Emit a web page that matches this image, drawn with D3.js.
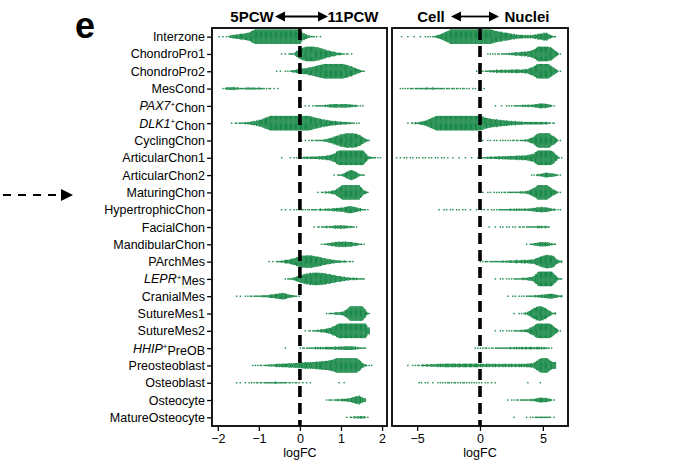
<!DOCTYPE html>
<html>
<head>
<meta charset="utf-8">
<script src="https://cdn.jsdelivr.net/npm/d3@7"></script>
<style>
  body { margin: 0; background: #fff; }
  text { font-family: "Liberation Sans", Arial, sans-serif; fill: #000; }
</style>
</head>
<body>
<svg id="chart" width="691" height="475"></svg>
<script>
// cell types, top to bottom ("+" marks a gene name shown in italics)
const cellTypes = [
  "Interzone", "ChondroPro1", "ChondroPro2", "MesCond", "PAX7+Chon", "DLK1+Chon",
  "CyclingChon", "ArticularChon1", "ArticularChon2", "MaturingChon", "HypertrophicChon",
  "FacialChon", "MandibularChon", "PArchMes", "LEPR+Mes", "CranialMes", "SutureMes1",
  "SutureMes2", "HHIP+PreOB", "Preosteoblast", "Osteoblast", "Osteocyte", "MatureOsteocyte"
];

// neighbourhood counts per logFC bin: [first bin centre, counts...]
// 5PCW vs 11PCW, bins of 0.1
const ageStep = 0.1;
const ageCounts = [
  [-1.95, [1,1,2,8,12,15,18,22,35,50,70,70,70,70,70,70,70,70,70,70,25,12,4,2,1]],
  [-0.45, [1,1,2,4,20,35,42,45,42,38,30,22,16,10,6,3,2,1]],
  [-0.55, [1,1,1,2,6,10,14,18,22,28,34,40,44,46,46,45,42,36,28,18,8,2]],
  [-1.85, [2,6,8,6,3,4,5,5,4,4,2,2,1,1]],
  [0.15, [1,1,2,3,4,5,8,10,9,10,9,7,4,2,1]],
  [-1.65, [1,2,3,4,6,10,14,20,30,40,45,48,50,50,50,50,50,48,45,40,34,28,22,18,14,11,9,7,5,4,2,1]],
  [0.05, [1,1,2,2,3,4,8,14,22,32,38,42,42,40,32,16,3]],
  [-0.45, [1,0,1,1,2,4,5,6,6,8,9,12,16,25,45,60,65,65,65,60,40,10,4,2,1]],
  [0.85, [1,2,6,20,30,20,5,2]],
  [0.45, [1,2,4,6,12,28,45,55,55,52,40,12,2]],
  [-0.45, [1,1,1,1,2,2,2,2,3,3,4,5,6,8,10,12,18,20,14,8,3,1]],
  [0.35, [1,2,3,4,5,7,9,9,6,4,2]],
  [0.55, [2,4,8,12,14,15,14,12,8,4,1]],
  [-0.75, [1,1,2,5,8,12,18,28,34,36,36,32,28,22,16,12,8,6,4,3,2]],
  [-0.35, [1,3,6,16,24,30,34,36,36,34,30,26,20,16,12,8,6,5,4,2]],
  [-1.55, [1,1,1,2,2,3,4,5,7,10,14,18,16,8,4,2]],
  [0.65, [1,3,5,7,10,25,50,55,55,35,3]],
  [0.15, [1,2,3,5,8,12,18,28,45,65,75,80,80,80,70,20]],
  [-0.35, [1,0,0,0,2,3,3,4,5,5,6,7,7,8,9,10,10,7,4,3]],
  [-1.15, [1,2,2,3,4,6,8,9,10,11,12,14,16,18,18,20,22,24,26,30,38,48,55,58,56,48,30,8,2,1]],
  [-1.55, [1,1,1,1,2,2,2,3,3,4,4,3,3,2,2,2,1,1,1,0,0,0,0,0,0,1,1]],
  [0.65, [1,3,3,4,6,8,12,20,24,10]],
  [1.15, [1,2,4,6,5,1]]
];

// Cell vs Nuclei, bins of 0.5
const protoStep = 0.5;
const protoCounts = [
  [-6.25, [1,1,1,1,2,3,15,40,70,90,95,95,95,90,70,50,40,30,20,14,12,14,25,35,6]],
  [0.75, [2,3,4,6,12,16,20,35,75,80,50,3]],
  [-0.25, [1,3,6,10,12,12,14,14,18,40,75,80,40,2]],
  [-6.25, [2,3,4,5,6,6,5,4,4,3,3,2,2,1]],
  [1.25, [1,1,2,4,6,8,10,20,18,3]],
  [-5.75, [1,4,10,25,50,75,85,90,90,90,85,80,55,40,32,26,20,16,12,10,10,10,8,3]],
  [0.25, [1,2,2,2,3,3,4,8,30,75,80,45,2]],
  [-6.75, [1,2,2,2,2,2,2,2,2,1,1,1,1,1,4,8,10,12,14,16,18,22,35,75,85,60,4]],
  [4.25, [2,8,20,14,3]],
  [0.25, [1,2,2,3,4,5,7,10,35,75,75,30,2]],
  [-3.25, [1,2,2,2,2,1,1,2,2,2,5,6,7,8,8,14,22,20,8,2]],
  [0.75, [1,1,2,2,2,3,4,5,9,5]],
  [3.75, [1,6,18,18,5]],
  [0.25, [3,4,5,6,8,10,12,14,18,40,60,55,8]],
  [1.25, [1,2,2,4,6,10,20,75,85,60,5]],
  [2.25, [1,2,2,4,6,10,16,22,6]],
  [2.75, [1,2,8,45,70,45,6]],
  [1.25, [1,2,2,4,6,12,40,80,85,50,3]],
  [-0.25, [2,3,3,4,5,6,7,8,9,8,9,6,1]],
  [-5.75, [1,2,4,8,10,12,14,14,14,14,14,14,12,12,12,12,12,12,12,14,18,60,70,30]],
  [-4.75, [2,2,1,2,3,3,3,3,2,3,2,2,1,0,0,0,0,1,0,1]],
  [2.25, [1,3,4,5,8,20,18,3]],
  [2.75, [1,0,1,3,5,6,2]]
];

const ageTicks = [-2, -1, 0, 1, 2];
const protoTicks = [-5, 0, 5];

const green = "#1b8a4a";
const dx = 1.25, dy = 1.1, cap = 13;
const plotTop = 28, plotBottom = 426;

const svg = d3.select("#chart");

const y = d3.scaleBand()
  .domain(d3.range(cellTypes.length))
  .range([plotTop, plotBottom]);

const panels = [
  { x: d3.scaleLinear().domain([-2.14, 2.12]).range([212, 387]), ticks: ageTicks,
    counts: ageCounts, step: ageStep, left: "5PCW", right: "11PCW",
    lx: 252, rx: 353, a0: 275, a1: 328 },
  { x: d3.scaleLinear().domain([-7, 7]).range([392, 568]), ticks: protoTicks,
    counts: protoCounts, step: protoStep, left: "Cell", right: "Nuclei",
    lx: 431, rx: 527, a0: 451, a1: 499 }
];

// beeswarm-like columns: dots per pixel column follow the binned counts
function layoutDots(spec, step, scale) {
  const c0 = spec[0], counts = spec[1];
  const n = counts.length;
  const cn = c0 + (n - 1) * step;
  const f = v => {
    if (v < c0 - step / 2 || v > cn + step / 2) return 0;
    if (v <= c0) return counts[0];
    if (v >= cn) return counts[n - 1];
    const t = (v - c0) / step, i = Math.floor(t), fr = t - i;
    return counts[i] * (1 - fr) + counts[Math.min(i + 1, n - 1)] * fr;
  };
  const pts = [];
  const [r0, r1] = scale.range();
  let acc = 0.5;
  for (let px = r0 + 1.5; px < r1 - 1.5; px += dx) {
    const v0 = scale.invert(px), v1 = scale.invert(px + dx);
    acc += f((v0 + v1) / 2) * (v1 - v0) / step;
    let k = Math.floor(acc);
    acc -= k;
    k = Math.min(k, cap);
    for (let m = 0; m < k; m++) pts.push([px, (m - (k - 1) / 2) * dy]);
  }
  return pts;
}

panels.forEach((p, pi) => {
  const g = svg.append("g");

  // dots
  p.counts.forEach((spec, i) => {
    const cy = y(i) + y.bandwidth() / 2;
    g.append("g")
      .selectAll("rect")
      .data(layoutDots(spec, p.step, p.x))
      .enter()
      .append("rect")
      .attr("x", d => d[0] - 0.1)
      .attr("y", d => cy + d[1] - 0.7)
      .attr("width", 1.45)
      .attr("height", 1.4)
      .attr("fill", green);
  });

  // zero line
  g.append("line")
    .attr("x1", p.x(0)).attr("x2", p.x(0))
    .attr("y1", plotTop + 1).attr("y2", plotBottom)
    .attr("stroke", "#000")
    .attr("stroke-width", 3.6)
    .attr("stroke-dasharray", "11,6");

  // frame
  g.append("rect")
    .attr("x", p.x.range()[0]).attr("y", plotTop)
    .attr("width", p.x.range()[1] - p.x.range()[0])
    .attr("height", plotBottom - plotTop)
    .attr("fill", "none")
    .attr("stroke", "#000")
    .attr("stroke-width", 1.8);

  // x axis
  const ax = g.append("g")
    .attr("transform", "translate(0," + (plotBottom + 0.9) + ")")
    .call(d3.axisBottom(p.x).tickValues(p.ticks).tickSize(4).tickPadding(3)
      .tickFormat(d3.format("~g")));
  ax.select(".domain").remove();
  ax.selectAll("line").attr("stroke-width", 1.3);
  ax.selectAll("text").style("font-size", "12.5px").attr("fill", "#000");

  g.append("text")
    .attr("x", p.x(0)).attr("y", 457)
    .attr("text-anchor", "middle")
    .style("font-size", "12.5px")
    .text("logFC");

  // header with double arrow
  g.append("text").attr("x", p.lx).attr("y", 22).attr("text-anchor", "middle")
    .style("font-size", "15px").style("font-weight", "bold").text(p.left);
  g.append("text").attr("x", p.rx).attr("y", 22).attr("text-anchor", "middle")
    .style("font-size", "15px").style("font-weight", "bold").text(p.right);
  const ay = 16.5, hl = 10, hw = 5;
  g.append("line")
    .attr("x1", p.a0 + hl - 1).attr("x2", p.a1 - hl + 1)
    .attr("y1", ay).attr("y2", ay)
    .attr("stroke", "#000").attr("stroke-width", 1.8);
  g.append("path")
    .attr("d", `M${p.a0},${ay}L${p.a0 + hl},${ay - hw}L${p.a0 + hl},${ay + hw}Z` +
               `M${p.a1},${ay}L${p.a1 - hl},${ay - hw}L${p.a1 - hl},${ay + hw}Z`)
    .attr("fill", "#000");
});

// y axis on the first panel
const x0 = panels[0].x.range()[0];
const yAxis = svg.append("g")
  .attr("transform", "translate(" + (x0 - 0.9) + ",0)")
  .call(d3.axisLeft(d3.scalePoint().domain(d3.range(cellTypes.length))
      .range([y(0) + y.bandwidth() / 2, y(cellTypes.length - 1) + y.bandwidth() / 2]))
    .tickSize(4).tickFormat(""));
yAxis.select(".domain").remove();
yAxis.selectAll("line").attr("stroke-width", 1.3);

cellTypes.forEach((name, i) => {
  const t = svg.append("text")
    .attr("x", x0 - 7)
    .attr("y", y(i) + y.bandwidth() / 2)
    .attr("dy", "0.36em")
    .attr("text-anchor", "end")
    .style("font-size", "12.5px");
  const parts = name.split("+");
  if (parts.length === 2) {
    t.append("tspan").style("font-style", "italic").text(parts[0]);
    t.append("tspan").attr("dy", "-0.45em").style("font-size", "8px").text("+");
    t.append("tspan").attr("dy", "0.45em").text(parts[1]);
  } else {
    t.text(name);
  }
});

// panel letter
svg.append("text").attr("x", 75).attr("y", 38)
  .style("font-size", "36px").style("font-weight", "bold").text("e");

// dashed pointer to MaturingChon
const py = 195;
svg.append("line")
  .attr("x1", 3).attr("x2", 62).attr("y1", py).attr("y2", py)
  .attr("stroke", "#000").attr("stroke-width", 1.8)
  .attr("stroke-dasharray", "8,7");
svg.append("path")
  .attr("d", `M73,${py}L61,${py - 6}L61,${py + 6}Z`)
  .attr("fill", "#000");
</script>
</body>
</html>
